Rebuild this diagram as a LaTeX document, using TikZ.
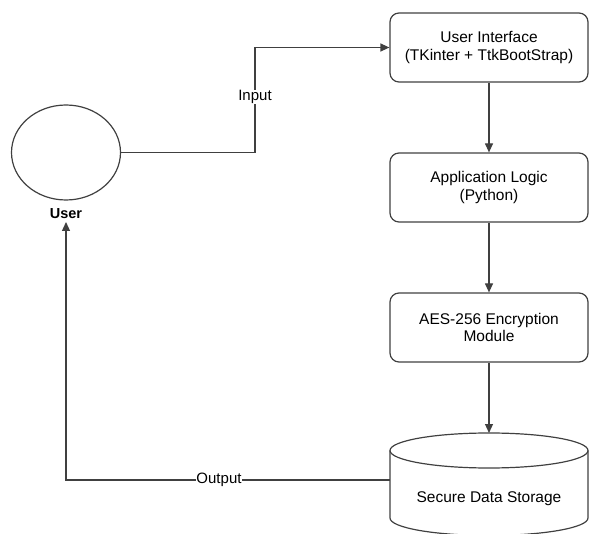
\documentclass[tikz,border=0pt]{standalone}
\usepackage{fontspec}
\setmainfont{Liberation Sans}
\usetikzlibrary{arrows.meta,shapes.geometric}
\begin{document}
\begin{tikzpicture}[x=1pt,y=-1pt,
  line/.style={draw=black!75,line width=1.2pt},
  arr/.style={line,-{Triangle[length=9pt,width=8pt]}},
  txt/.style={font=\fontsize{15.5}{17.5}\selectfont},
  box/.style={line,txt,rounded corners=9pt,minimum width=198pt,minimum height=69pt,align=center},
  lbl/.style={font=\fontsize{15}{17}\selectfont,fill=white,inner sep=0.5pt}]
\useasboundingbox (0,0) rectangle (589,534);
\node[box] (ui) at (489,47.5) {User Interface\\(TKinter + TtkBootStrap)};
\node[box] (al) at (489,187.5) {Application Logic\\(Python)};
\node[box] (aes) at (489,327.5) {AES-256 Encryption\\Module};
\node[line,ellipse,minimum width=109pt,minimum height=95pt] (user) at (66,152.5) {};
\node[font=\bfseries\fontsize{14.5}{17}\selectfont] (ulabel) at (66,214) {User};
% cylinder
\coordinate (cylL) at (390,480);
\draw[line] (390,450.5) arc[start angle=180,end angle=540,x radius=99pt,y radius=17.5pt];
\draw[line] (390,450.5) -- (390,518) arc[start angle=180,end angle=360,x radius=99pt,y radius=17.5pt] -- (588,450.5);
\node[txt] (store) at (489,499) {Secure Data Storage};
\coordinate (cyltop) at (489,433);
\coordinate (utip) at (66,222);
% connectors
\draw[arr] (user.east) -- (255,152.5) -- (255,47.5) -- (ui.west);
\node[lbl] (inlbl) at (255,97) {Input};
\draw[arr] (ui.south) -- (al.north);
\draw[arr] (al.south) -- (aes.north);
\draw[arr] (aes.south) -- (cyltop);
\draw[arr] (cylL) -- (66,480) -- (utip);
\node[lbl] (outlbl) at (219,480) {Output};
\end{tikzpicture}
\end{document}
